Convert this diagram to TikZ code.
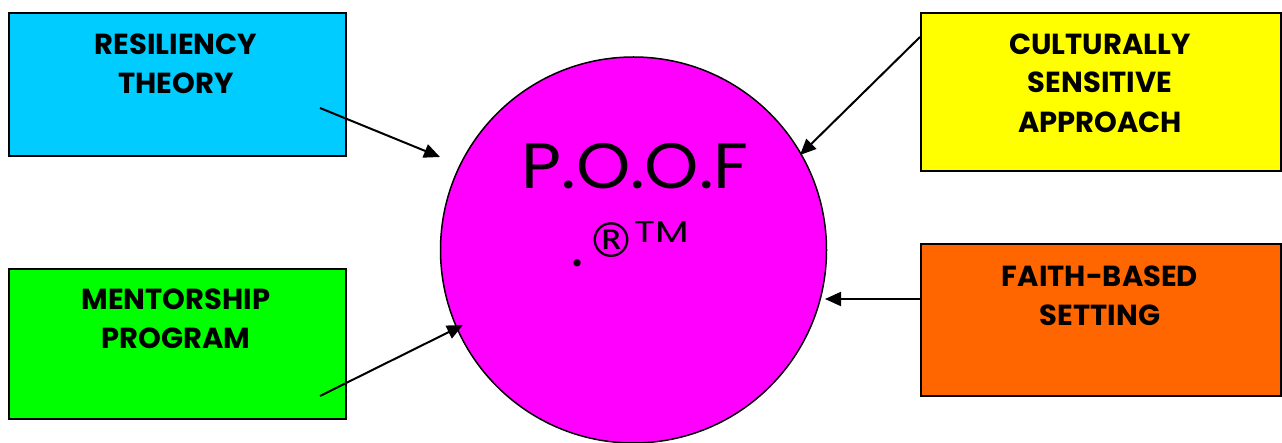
\documentclass[tikz,border=0pt]{standalone}
\usepackage{fontspec}
\setmainfont{Poppins}
\newfontfamily\symf{DejaVu Sans}
\usetikzlibrary{arrows.meta}
\definecolor{cyanbox}{HTML}{00CCFF}
\definecolor{yellowbox}{HTML}{FFFF00}
\definecolor{greenbox}{HTML}{00FF00}
\definecolor{orangebox}{HTML}{FF6600}
\definecolor{magentacirc}{HTML}{FF00FF}
\tikzset{
  box/.style={draw=black, line width=2pt, rectangle, anchor=north west, inner sep=0pt},
  lbl/.style={anchor=base, inner sep=0pt, font=\fontsize{29}{34}\selectfont\bfseries},
  conn/.style={line width=2pt, -{Triangle[length=16pt,width=14pt]}}
}
\begin{document}
\begin{tikzpicture}[x=1pt,y=-1pt]
\useasboundingbox (0,0) rectangle (1282,443);
% boxes
\node[box, fill=cyanbox, minimum width=337pt, minimum height=143pt] (res) at (8,12) {};
\node[box, fill=yellowbox, minimum width=360pt, minimum height=158pt] (cul) at (920,12) {};
\node[box, fill=greenbox, minimum width=337pt, minimum height=150pt] (men) at (8,268) {};
\node[box, fill=orangebox, minimum width=360pt, minimum height=152pt] (fai) at (920,243) {};
% labels
\node[lbl] (res1) at (176,55) {RESILIENCY};
\node[lbl] (res2) at (176,94) {THEORY};
\node[lbl] (cul1) at (1100,55) {CULTURALLY};
\node[lbl] (cul2) at (1100,93) {SENSITIVE};
\node[lbl] (cul3) at (1100,133) {APPROACH};
\node[lbl] (men1) at (176,310) {MENTORSHIP};
\node[lbl] (men2) at (176,349) {PROGRAM};
\node[lbl] (fai1) at (1100,287) {FAITH-BASED};
\node[lbl] (fai2) at (1100,326) {SETTING};
% circle
\node[circle, draw=black, line width=1.5pt, fill=magentacirc, minimum size=386pt, inner sep=0pt] (poof) at (633.5,250) {};
\node[anchor=base, inner sep=0pt, font=\fontsize{64}{66}\selectfont, xscale=1.08] (poofT) at (635,189) {P.O.O.F};
\node[anchor=base, inner sep=0pt, font=\fontsize{58}{60}\selectfont] (dot) at (578,267) {.};
\node[anchor=base, inner sep=0pt, font=\symf\fontsize{48}{50}\selectfont] (reg) at (611,258) {®};
\node[anchor=base, inner sep=0pt, font=\fontsize{30}{30}\selectfont, xscale=1.3] (tm) at (662,243) {TM};
% connector ends
\coordinate (resS) at (320,108);
\coordinate (resE) at (440,157);
\coordinate (culS) at (920,37);
\coordinate (culE) at (800,155);
\coordinate (faiS) at (920,299);
\coordinate (faiE) at (825,299);
\coordinate (menS) at (320,396);
\coordinate (menE) at (463,325);
\draw[conn] (resS) -- (resE);
\draw[conn] (culS) -- (culE);
\draw[conn] (faiS) -- (faiE);
\draw[conn] (menS) -- (menE);
\end{tikzpicture}
\end{document}
